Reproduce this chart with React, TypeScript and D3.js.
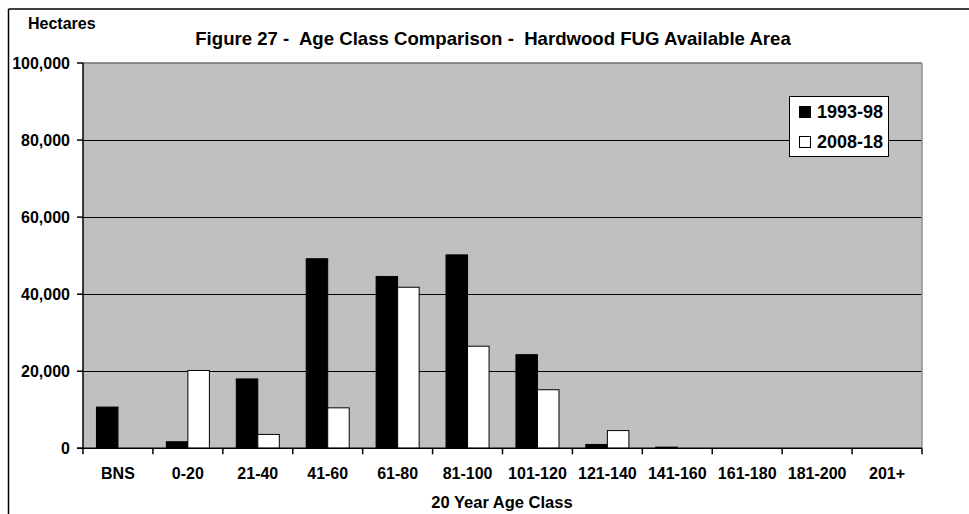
import React from "react";
import * as d3 from "d3";

const categories = ["BNS", "0-20", "21-40", "41-60", "61-80", "81-100", "101-120", "121-140", "141-160", "161-180", "181-200", "201+"];
const series1993 = [10700, 1700, 18000, 49200, 44600, 50200, 24300, 1000, 300, 0, 0, 0];
const series2008 = [0, 20200, 3600, 10500, 41800, 26500, 15200, 4600, 0, 0, 0, 0];
const seriesNames = ["1993-98", "2008-18"];
const yTicks = [0, 20000, 40000, 60000, 80000, 100000];

const W = 969;
const H = 514;
const plot = { left: 83, right: 922, top: 63, bottom: 448.3 };
const FONT = "'Liberation Sans', Arial, sans-serif";

export default function App() {
  const x = d3.scaleBand<string>().domain(categories).range([plot.left, plot.right]).paddingInner(0).paddingOuter(0);
  const xs = d3.scaleBand<string>().domain(seriesNames).range([0, x.bandwidth()]).paddingInner(0).paddingOuter(0.625);
  const y = d3.scaleLinear().domain([0, 100000]).range([plot.bottom, plot.top]);
  const fmt = d3.format(",");
  const fills = ["#000000", "#ffffff"];
  const data = [series1993, series2008];

  const tickXs = categories.map((c) => x(c)!).concat([plot.right]);

  return (
    <svg width={W} height={H} style={{ position: "absolute", left: 0, top: 0, display: "block" }} fontFamily={FONT}>
      <rect x={0} y={0} width={W} height={H} fill="#ffffff" />
      {/* outer chart border (cropped) */}
      <line x1={8.5} y1={9} x2={W} y2={9} stroke="#000" strokeWidth={1.5} />
      <line x1={8.5} y1={9} x2={8.5} y2={H} stroke="#000" strokeWidth={1.5} />

      {/* plot area */}
      <rect x={plot.left} y={plot.top} width={plot.right - plot.left} height={plot.bottom - plot.top} fill="#c0c0c0" />
      {yTicks.filter((t) => t > 0 && t < 100000).map((t) => (
        <line key={t} x1={plot.left} x2={plot.right} y1={Math.round(y(t)) + 0.5} y2={Math.round(y(t)) + 0.5} stroke="#000" strokeWidth={1} />
      ))}
      <line x1={plot.left} x2={plot.right} y1={plot.top} y2={plot.top} stroke="#707070" strokeWidth={1.5} />
      <line x1={plot.right} x2={plot.right} y1={plot.top} y2={plot.bottom} stroke="#909090" strokeWidth={1.5} />

      {/* bars */}
      {data.map((vals, si) =>
        vals.map((v, i) =>
          v > 0 ? (
            <rect
              key={`${si}-${i}`}
              x={x(categories[i])! + xs(seriesNames[si])!}
              y={y(v)}
              width={xs.bandwidth()}
              height={plot.bottom - y(v)}
              fill={fills[si]}
              stroke="#000"
              strokeWidth={1}
            />
          ) : null
        )
      )}

      {/* axes */}
      <line x1={plot.left} x2={plot.left} y1={plot.top} y2={plot.bottom} stroke="#000" strokeWidth={1.5} />
      <line x1={plot.left - 6} x2={plot.right} y1={plot.bottom} y2={plot.bottom} stroke="#000" strokeWidth={1.5} />
      {yTicks.map((t) => (
        <g key={t}>
          <line x1={plot.left - 6} x2={plot.left} y1={y(t)} y2={y(t)} stroke="#000" strokeWidth={1.5} />
          <text x={70} y={y(t)} dy="0.36em" textAnchor="end" fontSize={16} fontWeight="bold" fill="#000">
            {fmt(t)}
          </text>
        </g>
      ))}
      {tickXs.map((tx, i) => (
        <line key={i} x1={tx} x2={tx} y1={plot.bottom} y2={plot.bottom + 6} stroke="#000" strokeWidth={1.5} />
      ))}
      {categories.map((c) => (
        <text key={c} x={x(c)! + x.bandwidth() / 2} y={479} textAnchor="middle" fontSize={16} fontWeight="bold" fill="#000">
          {c}
        </text>
      ))}

      {/* titles */}
      <text x={28} y={29} fontSize={16} fontWeight="bold" fill="#000">Hectares</text>
      <text x={493} y={45} textAnchor="middle" fontSize={18.6} fontWeight="bold" fill="#000" style={{ whiteSpace: "pre" }}>
        {"Figure 27 -  Age Class Comparison -  Hardwood FUG Available Area"}
      </text>
      <text x={502} y={508} textAnchor="middle" fontSize={16.5} fontWeight="bold" fill="#000">20 Year Age Class</text>

      {/* legend */}
      <rect x={789.5} y={96.5} width={99} height={60} fill="#fff" stroke="#000" strokeWidth={1} />
      {seriesNames.map((s, i) => (
        <g key={s}>
          <rect x={799.5} y={106.5 + i * 30} width={11} height={11} fill={fills[i]} stroke="#000" strokeWidth={1} />
          <text x={817} y={117.7 + i * 30} fontSize={18} fontWeight="bold" fill="#000">{s}</text>
        </g>
      ))}
    </svg>
  );
}
